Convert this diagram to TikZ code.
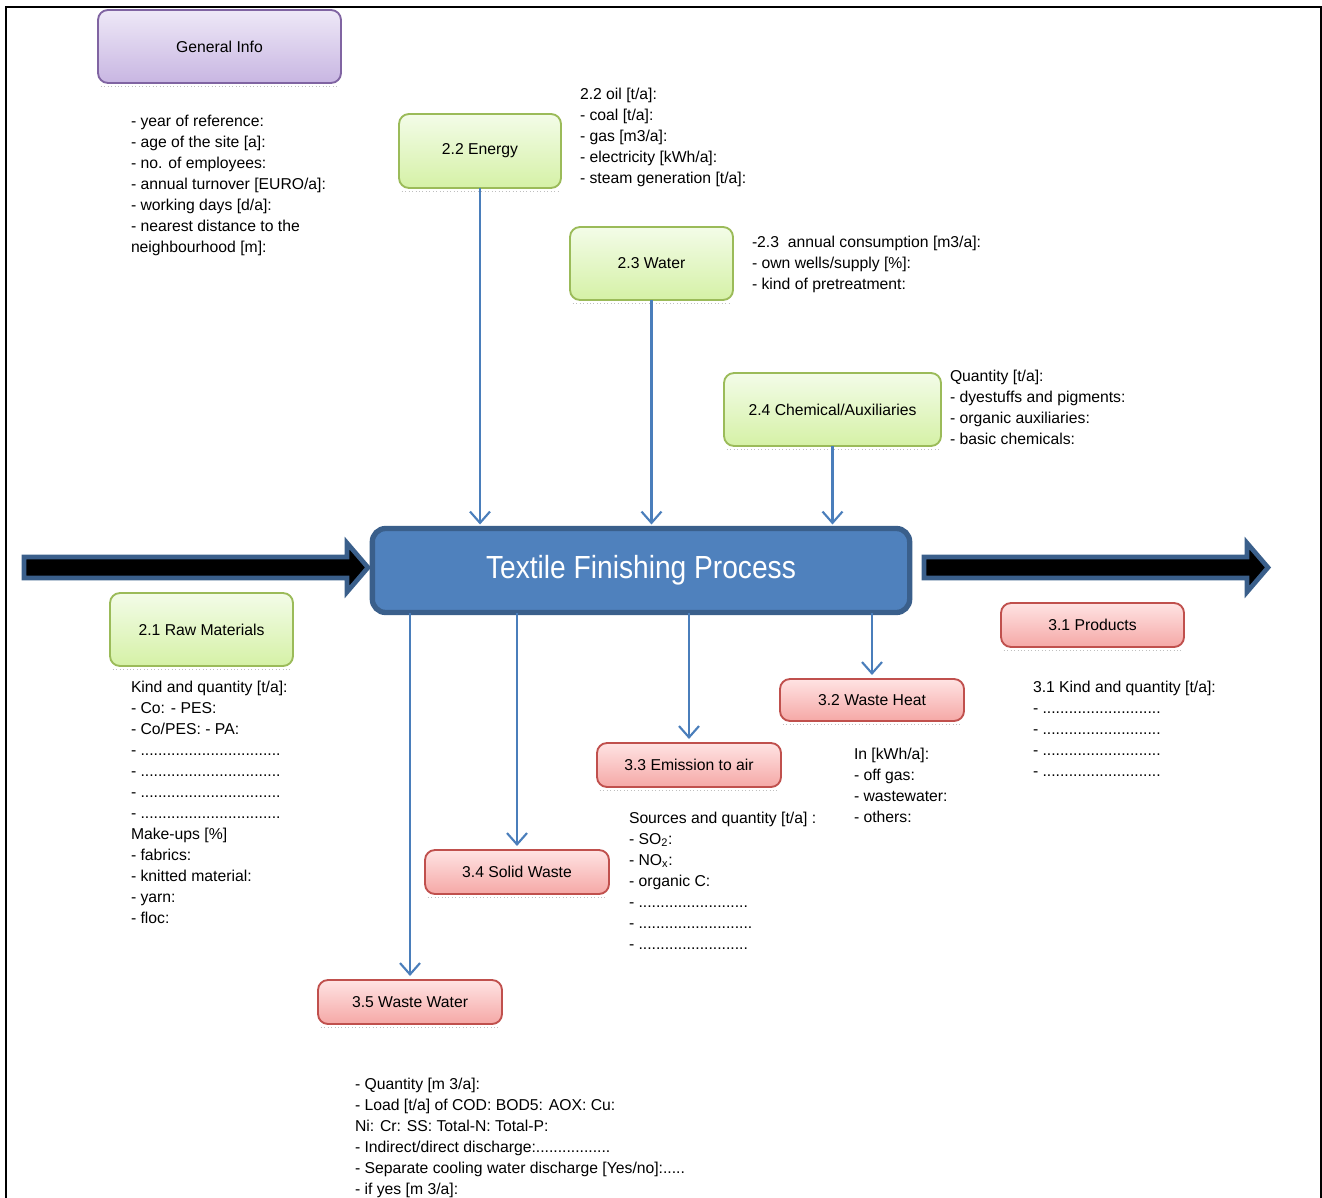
\documentclass[tikz,border=0pt]{standalone}
\usepackage{fontspec}
\setmainfont{Liberation Sans}
\newfontfamily\titlefont{Liberation Sans}[FakeStretch=0.88]
\usetikzlibrary{arrows.meta}
\definecolor{gborder}{HTML}{9BBB59}
\definecolor{gtop}{HTML}{F3FCE8}
\definecolor{gbot}{HTML}{D5F1A6}
\definecolor{rborder}{HTML}{C0504D}
\definecolor{rtop}{HTML}{FFE3E3}
\definecolor{rbot}{HTML}{F5A8A6}
\definecolor{pborder}{HTML}{8064A2}
\definecolor{ptop}{HTML}{EEE8F7}
\definecolor{pbot}{HTML}{C8B6E2}
\definecolor{mainfill}{HTML}{4F81BD}
\definecolor{mainborder}{HTML}{3A5F8B}
\definecolor{flowcol}{HTML}{4A7EBB}
\tikzset{
  boxbase/.style={rounded corners=7.5pt, line width=1.4pt, inner sep=0pt, outer sep=0pt,
    font=\fontsize{11.8}{13}\selectfont, text=black},
  pbox/.style={boxbase, draw=pborder, top color=ptop, bottom color=pbot},
  gbox/.style={boxbase, draw=gborder, top color=gtop, bottom color=gbot},
  rbox/.style={boxbase, draw=rborder, top color=rtop, bottom color=rbot},
  mainbox/.style={rounded corners=10pt, line width=4pt, draw=mainborder, fill=mainfill,
    inner sep=0pt, outer sep=0pt, text=white, font=\titlefont\fontsize{24}{28}\selectfont},
  flow/.style={draw=flowcol, line width=1.6pt, -{Straight Barb[length=8.5pt,width=15pt,line width=1.6pt]}, shorten >=3pt},
  listtext/.style={anchor=base west, inner sep=0pt, outer sep=0pt, font=\fontsize{11.8}{15.75}\selectfont},
  bigarrow/.style={fill=black, draw=mainborder, line width=3.5pt, line join=miter},
  shadowline/.style={draw=black!25, dotted, line width=0.6pt}
}
\newcommand{\lines}[1]{\begin{tabular}[t]{@{}l@{}}#1\end{tabular}}
\newcommand{\shadowunder}[1]{\draw[shadowline] ([xshift=2pt,yshift=-2.5pt]#1.south west) -- ([xshift=-2pt,yshift=-2.5pt]#1.south east);}
\begin{document}
\begin{tikzpicture}[x=0.75pt,y=-0.75pt]
\useasboundingbox (0,0) rectangle (1322,1198);
% frame
\draw[line width=1.9pt] (6,1200) -- (6,7) -- (1321,7) -- (1321,1200);

% boxes
\node[pbox, minimum width=182.25pt, minimum height=54.75pt] (gi) at (219.5,46.5) {General Info};
\node[gbox, minimum width=121.5pt, minimum height=55.5pt] (energy) at (480,151) {2.2 Energy};
\node[gbox, minimum width=122.25pt, minimum height=54.75pt] (water) at (651.5,263.5) {2.3 Water};
\node[gbox, minimum width=162.75pt, minimum height=54.75pt] (chem) at (832.5,409.5) {2.4 Chemical/Auxiliaries};
\node[gbox, minimum width=137.25pt, minimum height=54.75pt] (raw) at (201.5,629.5) {2.1 Raw Materials};
\node[rbox, minimum width=137.25pt, minimum height=33pt] (prod) at (1092.5,625) {3.1 Products};
\node[rbox, minimum width=138pt, minimum height=31.5pt] (heat) at (872,700) {3.2 Waste Heat};
\node[rbox, minimum width=138pt, minimum height=33pt] (emis) at (689,765) {3.3 Emission to air};
\node[rbox, minimum width=138pt, minimum height=33pt] (solid) at (517,872) {3.4 Solid Waste};
\node[rbox, minimum width=138pt, minimum height=33pt] (ww) at (410,1002) {3.5 Waste Water};
\foreach \b in {gi,energy,water,chem,raw,prod,heat,emis,solid,ww}{\shadowunder{\b}}

% big block arrows
\draw[bigarrow] (24,557) -- (347,557) -- (347,543) -- (368,567.5) -- (347,592) -- (347,578) -- (24,578) -- cycle;
\draw[bigarrow] (924,557) -- (1247,557) -- (1247,543) -- (1268,567.5) -- (1247,592) -- (1247,578) -- (924,578) -- cycle;

% main process
\node[mainbox, minimum width=403pt, minimum height=63pt] (main) at (641,570.5) {Textile Finishing Process};

% flows in
\draw[flow] (energy.south) -- (energy.south |- main.north);
\draw[flow] (water.south) -- (water.south |- main.north);
\draw[flow] (chem.south) -- (chem.south |- main.north);
% flows out
\draw[flow] (main.south -| ww.north) -- (ww.north);
\draw[flow] (main.south -| solid.north) -- (solid.north);
\draw[flow] (main.south -| emis.north) -- (emis.north);
\draw[flow] (main.south -| heat.north) -- (heat.north);

% texts
\node[listtext] (gitext) at (131,127) {\lines{- year of reference:\\- age of the site [a]:\\- no. of employees:\\- annual turnover [EURO/a]:\\- working days [d/a]:\\- nearest distance to the\\neighbourhood [m]:}};
\node[listtext] (entext) at (580,100) {\lines{2.2 oil [t/a]:\\- coal [t/a]:\\- gas [m3/a]:\\- electricity [kWh/a]:\\- steam generation [t/a]:}};
\node[listtext] (watext) at (752,248) {\lines{-2.3~ annual consumption [m3/a]:\\- own wells/supply [\%]:\\- kind of pretreatment:}};
\node[listtext] (chtext) at (950,382) {\lines{Quantity [t/a]:\\- dyestuffs and pigments:\\- organic auxiliaries:\\- basic chemicals:}};
\node[listtext] (rawtext) at (131,692) {\lines{Kind and quantity [t/a]:\\- Co: - PES:\\- Co/PES: - PA:\\- ................................\\- ................................\\- ................................\\- ................................\\Make-ups [\%]\\- fabrics:\\- knitted material:\\- yarn:\\- floc:}};
\node[listtext] (prtext) at (1033,692) {\lines{3.1 Kind and quantity [t/a]:\\- ...........................\\- ...........................\\- ...........................\\- ...........................}};
\node[listtext] (hetext) at (854,759) {\lines{In [kWh/a]:\\- off gas:\\- wastewater:\\- others:}};
\node[listtext] (emtext) at (629,823) {\lines{Sources and quantity [t/a] :\\- SO\textsubscript{2}:\\- NO\textsubscript{x}:\\- organic C:\\- .........................\\- ..........................\\- .........................}};
\node[listtext] (wwtext) at (355,1089) {\lines{- Quantity [m 3/a]:\\- Load [t/a] of COD: BOD5: AOX: Cu:\\Ni: Cr: SS: Total-N: Total-P:\\- Indirect/direct discharge:.................\\- Separate cooling water discharge [Yes/no]:.....\\- if yes [m 3/a]:}};
\end{tikzpicture}
\end{document}
